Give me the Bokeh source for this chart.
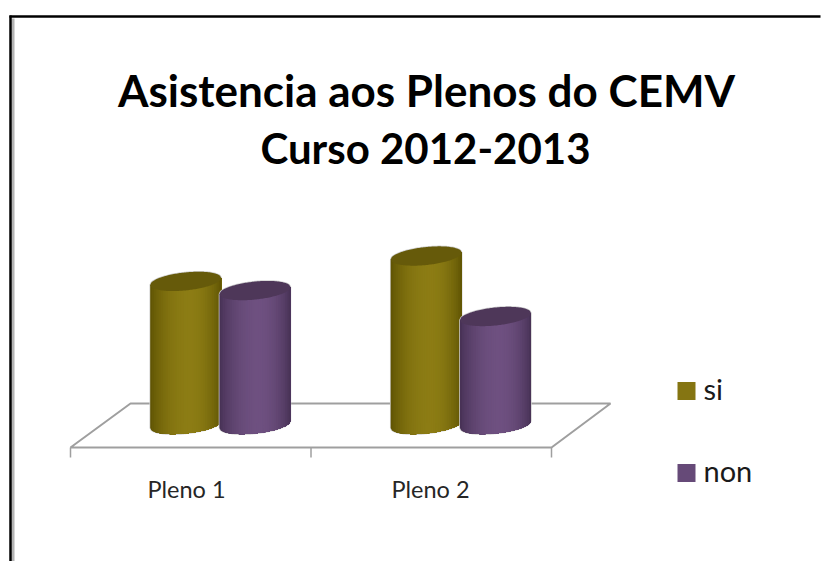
from bokeh.plotting import figure
from bokeh.models import Range1d
from bokeh.core.properties import value
from bokeh.embed import file_html
from bokeh.resources import INLINE
import math

categories = ["Pleno 1", "Pleno 2"]
si = [26.5, 31.2]
non = [24.8, 20.0]
series_names = ["si", "non"]
title_lines = ["Asistencia aos Plenos do CEMV", "Curso 2012-2013"]

W, H = 828, 561
PX_PER_VALUE = 5.4
PX_PER_CAT = 240.5
X0_PX, Y0_PX = 70.0, 424.0   # page pixel of x=0, y=0


def dx(px):
    return (px - X0_PX) / PX_PER_CAT


def dy(py):
    return (Y0_PX - py) / PX_PER_VALUE


p = figure(width=W, height=H, output_backend="svg", toolbar_location=None,
           x_range=Range1d(dx(0), dx(W)), y_range=Range1d(dy(H), dy(0)),
           min_border=0, outline_line_color=None, background_fill_color="white",
           border_fill_color="white")
p.xaxis.visible = False
p.yaxis.visible = False
p.grid.visible = False

# page frame (black with grey inner edge)
p.line([dx(12.5), dx(12.5)], [dy(18), dy(561)], line_color="#b4b4b4", line_width=3)
p.line([dx(10), dx(10)], [dy(15), dy(561)], line_color="#000000", line_width=2.5)
p.line([dx(9), dx(820)], [dy(16), dy(16)], line_color="#000000", line_width=2.5)

# floor
GREY = "#9f9f9f"
p.patch([dx(70), dx(130), dx(610), dx(551)], [dy(447), dy(403), dy(403), dy(447)],
        fill_color="white", line_color=GREY, line_width=2)
for t in range(3):
    p.line([t, t], [dy(447), dy(457)], line_color=GREY, line_width=1.5)

# cylinders
A_PX, H_PX, K_PX = 35.5, 9.0, 3.5
A, HV, KV = A_PX / PX_PER_CAT, H_PX / PX_PER_VALUE, K_PX / PX_PER_VALUE
BODY = {"si": ((0x5c, 0x51, 0x02), (0x8c, 0x7c, 0x14), "#665a0a"),
        "non": ((0x44, 0x2f, 0x52), (0x6e, 0x50, 0x80), "#4e3759")}
OFFSETS = {"si": -0.146, "non": 0.142}


def mix(c0, c1, f):
    return "#%02x%02x%02x" % tuple(int(round(a + (b - a) * f)) for a, b in zip(c0, c1))


def edge(cx, cy, x, sign):
    u = max(-1.0, min(1.0, (x - cx) / A))
    return cy + KV * u + sign * HV * math.sqrt(1 - u * u)


def shade(u):
    t = u / 0.55 * 0.5 if u < 0.55 else 0.5 + (u - 0.55) / 0.45 * 0.5
    return max(0.0, math.sin(math.pi * t)) ** 0.7


def cylinder(cx, val, name):
    dark, light, top = BODY[name]
    n = 40
    m = 60
    tx = [cx - A + 2 * A * j / m for j in range(m + 1)]
    # silhouette halo
    sil_x = tx + [cx + A] + tx[::-1]
    sil_y = [edge(cx, 0, x, -1) for x in tx] + [val + KV] + [edge(cx, val, x, 1) for x in tx[::-1]]
    p.patch(sil_x, sil_y, fill_color="#bdbdbd", line_color="#cfcfcf", line_width=1.5)
    # body, painted from left to right so that no seams show
    xs, ys, cols = [], [], []
    for i in range(n):
        a = cx - A + 2 * A * i / n
        lower = [a] + [x for x in tx if x > a]
        xs.append(lower + lower[::-1])
        ys.append([edge(cx, 0, x, -1) for x in lower] + [edge(cx, val, x, 0) for x in lower[::-1]])
        cols.append(mix(dark, light, shade((i + 0.5) / n)))
    p.patches(xs, ys, fill_color=cols, line_color=None)
    p.patch(tx + tx[::-1],
            [edge(cx, val, x, 1) for x in tx] + [edge(cx, val, x, -1) for x in tx[::-1]],
            fill_color=top, line_color=None)


for i in range(len(categories)):
    c = i + 0.625
    cylinder(c + OFFSETS["si"], si[i], "si")
    cylinder(c + OFFSETS["non"], non[i], "non")


def txt(px, py, s, size, color="#1a1a1a", style="normal", align="center"):
    p.text([dx(px)], [dy(py)], text=[s], text_font=value("Lato"), text_font_size=size,
           text_color=color, text_font_style=style, text_align=align, text_baseline="middle")


# title
txt(426, 89, title_lines[0], "44px", "#000000", "bold")
txt(425, 147, title_lines[1], "42px", "#000000", "bold")

# category labels
for s, px in zip(categories, [186, 430]):
    txt(px, 488, s, "23.5px", "#262626")

# legend
for s, py, c in zip(series_names, [390.5, 472.5], ["#857512", "#664a78"]):
    p.quad(left=[dx(677)], right=[dx(695)], top=[dy(py - 9)], bottom=[dy(py + 9)],
           fill_color=c, line_color=None)
    txt(703, py - 2.5, s, "29px", "#1a1a1a", align="left")

open("out.html", "w").write(file_html(p, INLINE))
